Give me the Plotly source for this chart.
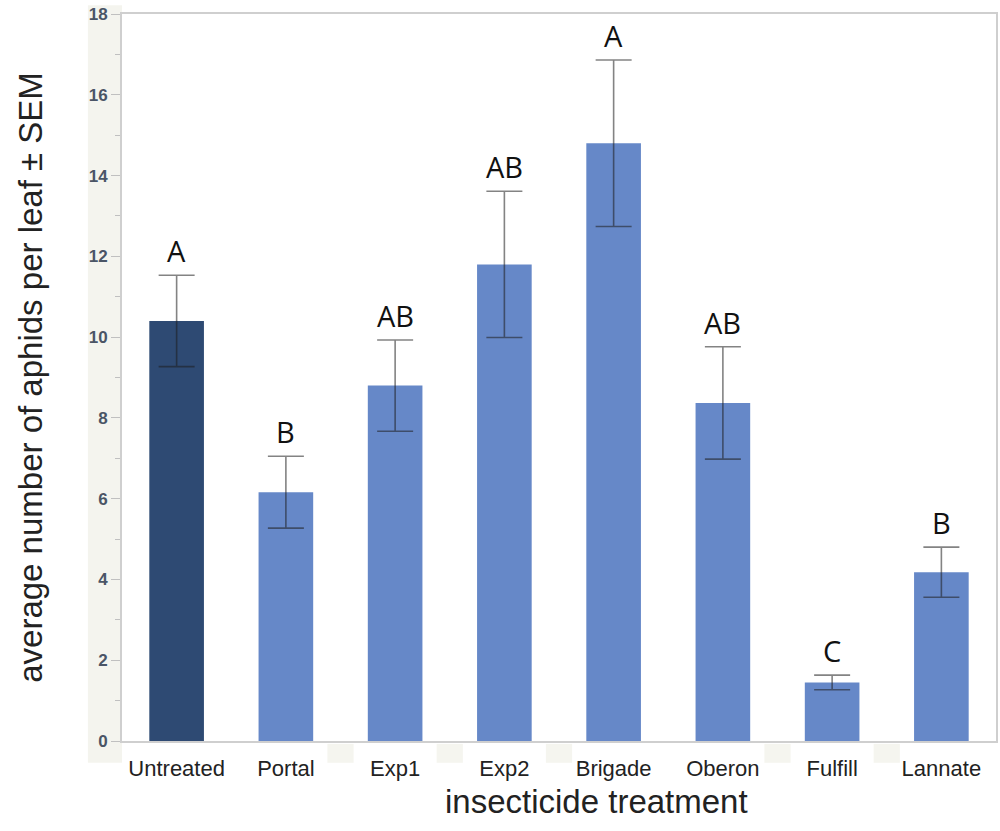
import plotly.graph_objects as go

categories = ["Untreated", "Portal", "Exp1", "Exp2", "Brigade", "Oberon", "Fulfill", "Lannate"]
means = [10.4, 6.16, 8.8, 11.8, 14.8, 8.37, 1.45, 4.18]
sem = [1.13, 0.89, 1.13, 1.81, 2.06, 1.39, 0.18, 0.62]
letters = ["A", "B", "AB", "AB", "A", "AB", "C", "B"]
bar_colors = ["#2e4a73"] + ["#6688c8"] * 7

fig = go.Figure()
fig.add_trace(go.Bar(
    x=categories, y=means,
    marker=dict(color=bar_colors, line=dict(width=0)),
    width=0.5,
    error_y=dict(type="data", array=sem, visible=True,
                 color="rgba(30,30,30,0.55)", thickness=1.6, width=18),
    showlegend=False,
))

for c, m, s, L in zip(categories, means, sem, letters):
    fig.add_annotation(x=c, y=m + s, text=L, showarrow=False,
                       yanchor="bottom", yshift=3,
                       font=dict(family="Open Sans", size=29, color="#111"))

# x-axis title (sits slightly right of centre in the original)
fig.add_annotation(xref="paper", yref="paper", x=0.543, y=-0.055, xanchor="center", yanchor="top",
                   text="insecticide treatment", showarrow=False,
                   font=dict(family="Arial", size=33, color="#222"))

# light panel behind y tick labels
shapes = [dict(type="rect", xref="paper", yref="paper", x0=-0.039, x1=0, y0=-0.03, y1=1.012,
               fillcolor="#f4f4ee", line=dict(width=0), layer="below")]
# faint patches between some x tick labels
for bx in [1.5, 2.5, 3.5, 5.5, 6.5]:
    shapes.append(dict(type="rect", xref="x", yref="paper", x0=bx - 0.12, x1=bx + 0.12,
                       y0=-0.03, y1=-0.004, fillcolor="#f5f5ef", line=dict(width=0), layer="below"))
fig.update_layout(shapes=shapes)

fig.update_layout(
    width=1000, height=831,
    margin=dict(l=122, r=4, t=14, b=90, autoexpand=False),
    paper_bgcolor="white", plot_bgcolor="white",
    xaxis=dict(
        showline=True, linecolor="#cfcfcf", linewidth=2, mirror=True, automargin=False,
        ticks="", ticklabelstandoff=7, tickfont=dict(family="Arial", size=22, color="#222"),
        showgrid=False,
    ),
    yaxis=dict(
        range=[0, 18], dtick=2, showline=True, linecolor="#cfcfcf", linewidth=2, mirror=True,
        automargin=False,
        ticks="outside", ticklen=9, tickcolor="#c0c0c0", tickwidth=1,
        ticklabeloverflow="allow",
        minor=dict(dtick=1, ticks="outside", ticklen=5, tickcolor="#c0c0c0"),
        tickfont=dict(family="Arial", size=17, color="#4a5566", weight="bold"),
        title=dict(text="average number of aphids per leaf ± SEM", font=dict(family="Arial", size=33, color="#222"), standoff=36),
        showgrid=False, zeroline=False,
    ),
)

fig.write_html("out.html", config={"displayModeBar": False},
               post_script="document.body.style.margin='0';")
